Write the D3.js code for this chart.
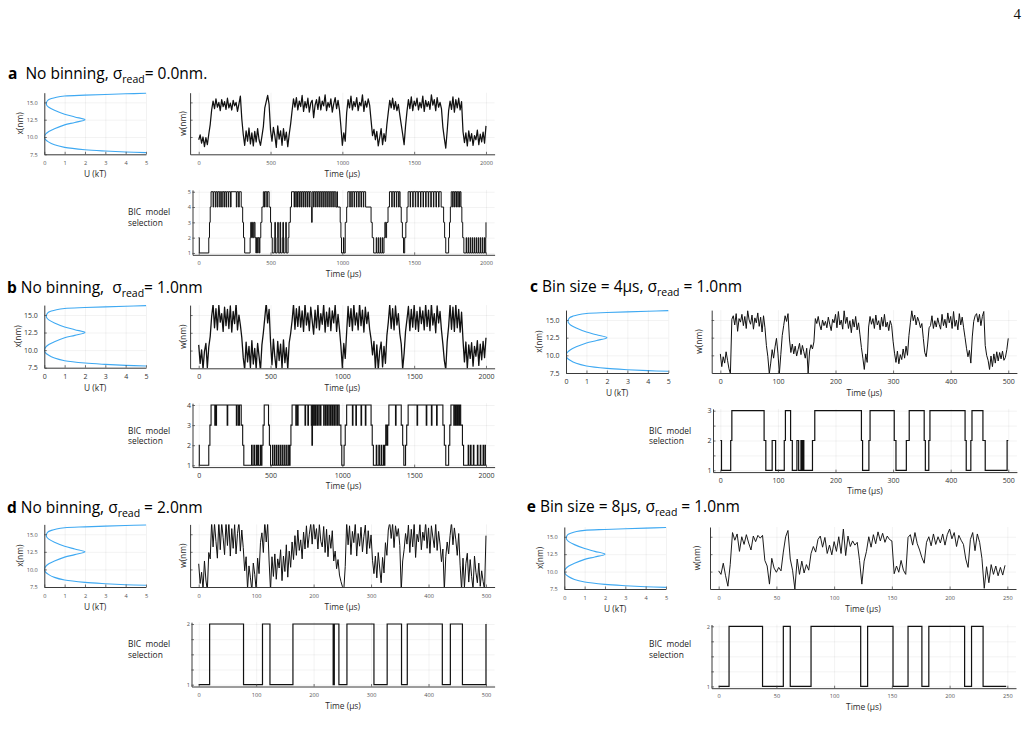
<!DOCTYPE html>
<html><head><meta charset="utf-8">
<script src="https://cdn.jsdelivr.net/npm/d3@7"></script>
<style>
body{margin:0;background:#fff;}
svg{display:block;font-family:"Open Sans","Noto Sans",sans-serif;}
text{white-space:pre;}
</style></head><body>
<svg id="fig" width="1028" height="739"></svg>
<script>
// ---------------- DATA ----------------
// potential curve U(x): x (nm) and U (kT)
const potX = [7.74,7.83,7.97,8.16,8.5,8.87,9.3,9.65,10.0,10.4,10.8,11.2,11.75,12.1,12.5,12.9,13.3,13.87,14.3,14.6,14.9,15.3,15.55,15.75,15.92,16.05,16.15,16.24,16.32];
const potU = [5.0,4.0,3.0,2.0,1.0,0.5,0.2,0.05,0.0,0.06,0.22,0.5,1.0,1.5,2.0,1.5,1.0,0.5,0.22,0.12,0.1,0.17,0.35,0.6,1.0,2.0,3.0,4.0,5.0];
const potXTicks = [0,1,2,3,4,5];
const potYTicks = [7.5,10.0,12.5,15.0];

// trace a (sigma 0.0), sampled every 10 us, 0..2000
const traceA = [
9.6,10.3,9.1,10.0,8.6,9.9,8.9,10.4,11.8,13.9,
15.2,14.1,15.5,14.3,15.0,13.8,15.4,14.4,15.1,14.0,
15.6,14.2,14.9,13.9,15.3,14.5,15.0,13.7,14.8,15.9,
12.6,10.4,8.8,10.9,9.4,11.3,9.0,10.6,8.7,10.8,
9.3,11.2,9.6,8.8,10.1,11.5,14.2,15.1,16.0,14.7,
11.0,9.4,11.4,10.2,8.5,11.6,9.7,10.9,8.8,11.2,
9.5,10.7,8.6,10.4,11.9,13.8,15.5,14.3,15.7,13.9,
15.2,14.4,16.0,13.7,15.1,14.2,15.6,13.6,14.9,15.3,
12.8,14.6,15.4,14.0,15.8,13.9,15.2,14.5,16.1,13.8,
15.0,14.3,15.5,13.6,14.8,15.7,14.1,15.3,13.9,11.5,
8.8,10.6,9.4,13.5,15.4,14.2,15.9,13.9,15.1,14.4,
15.7,13.8,15.0,14.5,16.1,13.7,15.2,14.3,15.5,14.6,
12.4,10.2,11.1,9.6,10.8,8.7,9.9,11.2,8.9,10.5,
9.4,11.8,13.6,15.3,14.2,15.6,14.0,15.1,13.8,14.7,
13.2,11.8,10.4,8.9,11.6,13.7,15.4,14.1,15.8,13.8,
15.2,14.5,15.6,13.9,15.0,14.2,15.9,13.7,15.3,14.4,
15.1,14.0,16.1,14.6,15.4,13.8,15.7,14.3,15.0,14.1,
11.4,9.8,8.4,10.9,13.8,15.2,14.0,15.8,13.6,15.4,
14.2,15.6,13.9,15.1,10.8,9.2,10.6,8.7,10.9,9.4,
10.5,8.8,10.2,9.6,11.0,8.9,10.4,9.3,10.7,9.1,
11.6];
// trace b (sigma 1.0), every 10 us
const traceB = [
10.8,8.2,10.1,7.4,9.9,11.0,7.6,10.5,12.0,14.8,
16.5,13.2,15.9,12.9,16.4,14.0,15.2,12.7,16.1,13.5,
15.8,13.1,16.3,12.6,15.5,13.8,16.6,12.9,15.0,13.6,
11.8,9.0,7.3,11.2,8.4,10.6,7.6,11.4,8.1,10.3,
7.4,11.0,9.2,7.2,10.8,12.5,14.6,16.7,13.9,15.8,
11.2,8.0,11.6,9.1,7.3,11.3,8.6,10.9,7.5,11.5,
8.3,10.4,7.4,11.1,12.4,14.2,16.5,13.0,15.9,13.4,
16.2,13.3,15.6,12.7,16.6,13.6,15.3,12.8,16.1,14.2,
12.3,15.7,13.2,16.4,12.9,15.2,13.7,16.5,12.6,15.4,
13.4,16.0,12.8,15.6,13.9,16.4,12.7,15.1,13.0,10.6,
7.6,11.0,8.9,12.6,16.2,13.4,15.9,12.8,16.5,13.6,
15.3,12.9,16.6,13.5,15.7,12.6,16.1,13.8,15.4,13.0,
11.6,9.4,11.3,7.5,10.8,7.3,9.9,11.2,7.7,10.6,
8.2,12.1,14.0,16.5,13.1,15.9,12.9,16.3,13.6,15.2,
12.4,10.9,7.4,9.6,12.7,14.4,16.2,12.8,15.8,13.3,
16.4,13.0,15.5,12.7,16.1,13.8,15.6,12.9,16.5,13.4,
15.7,12.8,16.6,13.6,15.2,12.5,16.3,13.9,15.5,12.9,
10.9,8.6,7.3,11.3,13.4,16.4,13.0,16.1,12.7,16.5,
13.2,15.8,12.6,15.4,11.5,8.4,11.2,7.5,10.8,8.9,
11.1,7.8,10.6,9.2,11.4,7.9,10.9,8.7,11.3,9.0,
11.8];
// trace c (bin 4 us), every 2.5 units, 0..500
const traceC = [
10.2,8.4,9.8,8.9,10.5,9.3,8.1,7.4,15.1,15.6,14.3,15.9,13.4,15.2,14.7,15.8,14.2,15.5,13.8,16.3,
15.0,14.4,15.7,13.7,15.3,14.6,16.0,14.1,15.4,13.3,15.6,13.9,11.4,9.8,7.4,8.9,10.8,9.6,11.2,12.4,
10.3,7.4,10.1,12.8,14.2,15.6,14.8,15.9,12.3,10.4,11.6,10.2,11.3,9.9,10.8,11.7,10.1,11.4,10.5,9.6,
11.0,7.5,10.6,11.5,10.9,11.9,15.2,14.5,15.5,14.3,13.6,15.0,14.2,14.8,13.9,15.4,14.4,13.5,15.1,14.6,
15.8,13.9,16.2,14.3,15.0,13.7,16.3,14.5,15.4,13.8,14.9,13.2,15.1,14.0,15.5,13.6,14.6,12.9,11.1,9.6,
8.0,10.2,9.0,14.0,15.5,14.4,15.2,13.8,15.7,14.3,14.9,13.6,15.4,14.1,15.8,14.0,14.7,13.5,14.9,14.2,
12.0,10.3,9.0,10.6,8.8,10.1,9.4,10.9,9.6,11.3,10.0,12.8,14.6,16.3,14.9,15.7,14.3,15.4,14.8,13.9,
14.5,12.4,10.4,9.8,11.6,13.9,14.2,15.6,13.8,14.9,14.0,15.3,14.4,13.7,15.8,14.2,15.1,13.9,16.0,14.6,
15.5,13.8,16.2,14.1,15.0,13.6,15.9,14.3,15.4,13.9,12.5,11.0,9.8,10.7,8.9,12.6,14.8,15.6,15.9,14.7,
15.8,14.2,15.5,16.2,11.4,10.0,9.3,8.0,9.9,8.4,10.2,8.9,10.5,9.2,10.4,9.5,10.6,9.3,9.7,10.8,
12.4];
// trace d (sigma 2.0), every 2.5 us, 0..500
const traceD = [
10.8,8.0,9.6,7.2,11.2,8.5,7.0,12.4,11.5,16.8,13.2,16.5,14.0,11.6,16.9,12.8,16.6,14.5,12.1,16.7,
13.4,16.8,11.9,15.8,13.0,16.4,12.2,15.1,16.7,12.6,15.6,13.1,9.8,11.8,7.2,10.5,8.8,7.0,10.9,9.3,
7.1,11.6,9.4,13.8,15.2,12.4,16.8,13.9,16.5,11.2,7.0,11.8,9.0,12.2,8.6,11.5,10.2,12.8,8.4,11.9,
9.7,13.5,8.9,12.6,10.3,13.9,11.4,14.8,12.0,15.6,12.7,14.2,11.5,15.3,12.9,16.2,13.1,15.0,16.5,13.6,
16.8,14.3,15.8,12.9,16.4,14.0,13.2,16.1,12.4,15.7,11.8,14.9,13.0,15.5,11.2,12.6,10.1,11.4,9.2,8.3,
7.6,7.0,10.4,16.7,13.5,16.2,12.1,15.4,13.8,16.6,11.9,15.1,13.3,16.0,12.5,14.7,16.3,12.2,15.5,13.0,
14.9,11.3,9.4,11.9,8.8,12.4,10.2,8.1,11.7,9.5,13.8,12.0,15.6,16.7,14.4,16.5,13.1,16.2,14.7,15.8,
13.4,7.0,11.2,12.8,15.1,13.6,16.3,12.4,15.7,13.2,16.6,11.7,15.0,13.9,16.4,12.8,15.3,14.1,16.7,13.0,
15.9,12.3,16.2,14.6,13.1,16.5,12.7,15.4,13.6,11.1,12.9,7.0,11.8,13.9,12.2,14.8,16.7,13.5,15.9,14.2,
12.0,15.1,10.6,7.1,11.6,7.4,10.8,12.3,8.2,11.4,9.0,7.2,11.9,9.6,8.1,10.9,7.6,9.8,8.3,7.1,
14.8];
// trace e (bin 8 us), every 2 units, 0..248
const traceE = [
10.1,9.6,11.2,9.4,7.9,11.0,15.6,14.5,15.4,12.9,15.0,13.9,15.3,14.1,13.1,15.1,14.3,15.2,14.8,15.2,
11.6,10.8,8.2,11.9,10.5,9.9,10.6,10.1,12.8,15.0,15.9,11.8,10.2,7.5,11.8,9.6,11.5,9.8,11.0,10.2,
12.6,13.6,12.8,14.6,15.1,13.5,14.9,12.6,13.8,12.4,14.3,12.9,15.0,12.6,16.1,12.3,15.1,13.6,14.4,13.8,
14.2,11.6,8.2,11.5,12.9,15.0,13.5,15.3,14.0,15.7,14.4,15.5,14.2,15.1,14.6,14.4,9.7,10.8,9.9,11.6,
10.2,9.6,14.9,15.3,13.8,15.6,14.0,13.1,12.0,11.2,14.2,15.0,13.7,15.4,13.9,15.0,14.1,15.4,13.8,15.3,
16.1,14.7,15.6,13.6,15.2,14.5,13.9,11.8,10.6,14.6,15.6,13.0,15.4,14.2,11.9,7.6,10.7,8.4,11.0,9.6,
10.8,9.4,10.6,9.5,10.9];
const stepAB = 10, stepCD = 2.5, stepE = 2;

// BIC model selection: [time, selected model] change points
const bicA = [[0,2],[4,1],[70,2],[75,3],[80,4],[86,5],
[100,4],[104,5],[116,4],[120,5],[130,4],[134,5],[146,4],[150,5],[160,4],[164,5],[176,4],[179,5],[190,4],[194,5],[206,4],[209,5],[222,4],[225,5],[262,4],[266,5],[278,4],[282,5],[296,4],[306,3],[312,2],[320,1],
[358,2],[362,3],[368,2],[374,3],[380,2],[386,3],[392,2],[398,1],[402,2],[410,1],[414,2],[422,1],[426,2],[432,3],[440,4],[450,5],[458,4],[462,5],[474,4],[478,5],[490,4],[500,3],[506,2],[512,1],
[526,2],[530,3],[534,1],[546,2],[550,3],[554,1],[566,3],[570,1],[582,2],[586,3],[590,1],[602,2],[606,3],[610,1],[622,2],[628,3],[638,4],[646,5],
[664,4],[667,5],[676,4],[679,5],[688,4],[691,5],[700,4],[703,5],[712,4],[715,5],[726,4],[729,5],[740,4],[743,5],[754,4],[757,5],[768,4],[771,5],[782,4],[786,3],[790,5],[800,4],[803,5],[814,4],[817,5],[828,4],[831,5],[842,4],[845,5],[856,4],[859,5],[870,4],[873,5],[884,4],[887,5],[898,4],[901,5],[912,4],[915,5],[926,4],[929,5],[940,4],[943,5],[954,4],[962,5],[966,4],[985,3],[990,2],[994,1],[1008,2],[1011,1],[1020,3],[1030,4],[1038,5],
[1052,4],[1055,5],[1066,4],[1069,5],[1082,4],[1085,5],[1098,4],[1101,5],[1114,4],[1117,5],[1130,4],[1133,5],[1146,4],[1149,5],[1162,4],[1200,3],[1208,2],[1218,1],
[1236,2],[1239,1],[1250,2],[1253,1],[1264,2],[1267,1],[1278,2],[1281,1],[1290,2],[1296,3],[1302,2],[1308,3],[1318,4],[1328,5],
[1344,4],[1347,5],[1360,4],[1363,5],[1376,4],[1379,5],[1392,4],[1395,5],[1402,4],[1410,3],[1418,2],[1426,1],[1434,2],[1442,3],[1450,4],[1458,5],
[1472,4],[1475,5],[1490,4],[1493,5],[1508,4],[1511,5],[1526,4],[1529,5],[1544,4],[1547,5],[1562,4],[1565,5],[1580,4],[1583,5],[1598,4],[1601,5],[1616,4],[1619,5],[1634,4],[1637,5],[1652,4],[1655,5],[1670,4],[1673,5],[1688,4],[1705,3],[1712,2],[1720,1],[1740,2],[1746,3],[1752,4],[1758,5],
[1768,4],[1771,5],[1780,4],[1783,5],[1792,4],[1795,5],[1804,4],[1807,5],[1816,4],[1819,5],[1826,4],[1832,3],[1838,2],[1846,1],
[1862,2],[1865,1],[1876,2],[1879,1],[1890,2],[1893,1],[1904,2],[1907,1],[1918,2],[1921,1],[1932,2],[1935,1],[1946,2],[1949,1],[1960,2],[1963,1],[1974,2],[1977,1],[1988,2],[1991,1],[1998,2],[2000,3]];
const bicB = [[0,2],[4,1],[70,2],[78,3],[86,4],[112,3],[116,4],[120,3],[124,4],[198,3],[202,4],[262,3],[266,4],[276,3],[284,4],[296,3],[306,2],[314,1],
[368,2],[372,1],[384,2],[388,1],[400,2],[404,1],[412,2],[416,1],[428,2],[432,1],[440,2],[448,3],[456,4],[486,3],[492,2],[500,1],
[514,2],[517,1],[528,2],[531,1],[542,2],[545,1],[556,2],[559,1],[570,2],[573,1],[584,2],[587,1],[598,2],[601,1],[612,2],[615,1],[626,2],[629,1],[636,2],[642,3],[650,4],
[676,3],[680,4],[688,3],[692,4],[740,3],[744,4],[760,3],[764,4],[784,3],[788,2],[792,4],[800,3],[804,4],[812,3],[815,4],[824,3],[827,4],[836,3],[839,4],[848,3],[851,4],[870,3],[873,4],[882,3],[885,4],[894,3],[897,4],[906,3],[909,4],[918,3],[921,4],[930,3],[933,4],[942,3],[945,4],[954,3],[957,4],[966,3],[969,4],[978,3],[990,2],[996,1],[1012,2],[1020,3],[1030,4],
[1070,3],[1074,4],[1094,3],[1098,4],[1130,3],[1134,4],[1160,3],[1164,4],[1200,3],[1208,2],[1216,1],
[1236,2],[1240,1],[1254,2],[1258,1],[1270,2],[1274,1],[1286,2],[1290,1],[1296,2],[1302,3],[1310,2],[1316,3],[1324,4],
[1370,3],[1374,4],[1410,3],[1420,2],[1428,1],[1440,2],[1448,3],[1458,4],
[1520,3],[1524,4],[1584,3],[1588,4],[1620,3],[1624,4],[1656,3],[1660,4],[1700,3],[1710,2],[1720,1],[1740,2],[1748,3],[1756,4],
[1776,3],[1780,4],[1788,3],[1792,4],[1800,3],[1804,4],[1812,3],[1816,4],[1824,3],[1830,3],[1836,2],[1844,1],
[1876,2],[1880,1],[1892,2],[1896,1],[1912,2],[1916,1],[1940,2],[1944,1],[1960,2],[1964,1],[1980,2],[1986,1],[1996,2],[2000,2]];
const bicC = [[0,2],[2,1],[18,2],[20,3],[76,2],[79,1],[90,2],[96,1],[111,2],[113,3],[122,2],[125,1],[133,2],[136,1],[140,2],[142,1],[144,2],[145,1],[160,2],[164,3],[245,2],[247,1],[258,2],[260,3],[302,2],[305,1],[323,2],[328,3],[354,2],[356,1],[362,2],[364,3],[425,2],[427,1],[435,2],[437,3],[456,2],[460,1],[498,2],[500,2]];
const bicD = [[0,1],[19,2],[78,1],[111,2],[124,1],[164,2],[234,1],[236,2],[244,1],[258,2],[305,1],[328,2],[353,1],[363,2],[424,1],[438,2],[459,1],[500,2]];
const bicE = [[0,1],[9,2],[38,1],[56,2],[62,1],[80,2],[123,1],[129,2],[151,1],[164,2],[176,1],[182,2],[213,1],[219,2],[229,1],[249,1]];

const ticksLong = [0,500,1000,1500,2000];
const ticks500 = [0,100,200,300,400,500];
const ticks250 = [0,50,100,150,200,250];

// ---------------- DRAWING ----------------
const svg = d3.select("#fig");
let clipN = 0;
const AX = "#3a3a3a";

function axes(g, x, y, o) {
  const [x0, x1] = x.range();
  const [yb, yt] = y.range();
  const gx = g.append("g").attr("transform", `translate(0,${yb})`)
    .call(d3.axisBottom(x).tickValues(o.xTicks).tickSize(-(yb - yt)).tickFormat(""));
  const gy = g.append("g").attr("transform", `translate(${x0},0)`)
    .call(d3.axisLeft(y).tickValues(o.yGrid || o.yTicks).tickSize(-(x1 - x0)).tickFormat(""));
  [gx, gy].forEach(s => { s.select(".domain").remove(); s.selectAll("line").attr("stroke", "#000").attr("stroke-opacity", 0.09).attr("stroke-width", 0.6); });
  return function drawAxisLines() {
    const fs = o.fs;
    const ax = g.append("g").attr("transform", `translate(0,${yb})`)
      .call(d3.axisBottom(x).tickValues(o.xTicks).tickSizeInner(-2.5).tickSizeOuter(0)
        .tickPadding(o.xPad - 0.35 * fs).tickFormat(o.xFmt || d3.format("d")));
    const ay = g.append("g").attr("transform", `translate(${x0},0)`)
      .call(d3.axisLeft(y).tickValues(o.yGrid || o.yTicks).tickSizeInner(-2.5).tickSizeOuter(0)
        .tickPadding(o.yPad).tickFormat(d => (o.yLabels && o.yLabels.includes(d)) ? o.yFmt(d) : ""));
    [ax, ay].forEach(s => {
      s.select(".domain").attr("stroke", AX).attr("stroke-width", 1);
      s.selectAll(".tick line").attr("stroke", AX).attr("stroke-width", 0.7);
      s.selectAll("text").attr("font-size", fs).attr("fill", o.tc).attr("font-family", '"Open Sans","Noto Sans",sans-serif');
    });
  };
}

function clip(x0, x1, yt, yb) {
  const id = "c" + (clipN++);
  svg.append("clipPath").attr("id", id).append("rect").attr("x", x0).attr("y", yt).attr("width", x1 - x0).attr("height", yb - yt);
  return `url(#${id})`;
}

function label(x, y, txt, fs, rot) {
  const t = svg.append("text").attr("font-size", fs).attr("fill", "#2a2a2a").attr("text-anchor", "middle")
    .attr("dominant-baseline", "central").text(txt);
  if (rot) t.attr("transform", `translate(${x},${y}) rotate(-90)`); else t.attr("x", x).attr("y", y);
}

function title(p) {
  const t = svg.append("text").attr("x", p.tx).attr("y", p.ty).attr("font-size", 15.5).attr("fill", "#000");
  t.append("tspan").attr("font-weight", "bold").text(p.title[0]);
  t.append("tspan").text(p.title[1]);
  t.append("tspan").attr("font-size", 10.5).attr("dy", 4).text(p.title[2]);
  t.append("tspan").attr("dy", -4).text(p.title[3]);
}

const panels = [
  {title:["a","  No binning, σ","read","= 0.0nm."], tx:8, ty:78.5,
   pot:[44.3,146,92.7,154.3], tr:[190.1,494.6,92.7,154.3], tDom:[-60,2060], tTicks:ticksLong,
   data:traceA, step:stepAB, sw:1.25, bic:bicA, bsw:1.0, bicX0:192.5, bicY:[189.9,254.8], bicDom:[0.88,5.12], bicTicks:[1,2,3,4,5], bicLabels:[1,2,3,4,5],
   fs:5.6, tc:"#555", wX:182.7, xX:19.7, bicLab:[128,211.7,222.7]},
  {title:["b"," No binning,  σ","read","= 1.0nm"], tx:7, ty:293,
   pot:[44.3,146,305.1,367.7], tr:[190.1,494.6,305.1,368.3], tDom:[-60,2060], tTicks:ticksLong,
   data:traceB, step:stepAB, sw:1.3, bic:bicB, bsw:1.1, bicX0:192.5, bicY:[403.2,467.1], bicDom:[0.91,4.09], bicTicks:[1,2,3,4], bicLabels:[1,2,3,4],
   fs:7, tc:"#333", wX:182.7, xX:17.8, bicLab:[128,430,440.7]},
  {title:["c"," Bin size = 4μs, σ","read"," = 1.0nm"], tx:530, ty:292,
   pot:[566,668.3,310.1,373], tr:[711.7,1016.9,310.1,373], tDom:[-15,515], tTicks:ticks500,
   data:traceC, step:stepCD, sw:1.0, bic:bicC, bsw:1.2, bicX0:713, bicY:[408.9,472.1], bicDom:[0.94,3.06], bicTicks:[1,1.5,2,2.5,3], bicLabels:[1,2,3],
   fs:7, tc:"#333", wX:698, xX:538, bicLab:[649,430,440.7]},
  {title:["d"," No binning, σ","read"," = 2.0nm"], tx:7, ty:512.5,
   pot:[44.3,146,524.4,587], tr:[190.1,494.6,524.4,587], tDom:[-15,515], tTicks:ticks500,
   data:traceD, step:stepCD, sw:1.0, bic:bicD, bsw:1.2, bicX0:191.5, bicY:[622.2,686.5], bicDom:[0.97,2.03], bicTicks:[1,1.25,1.5,1.75,2], bicLabels:[1,2],
   fs:5.6, tc:"#555", wX:182.7, xX:19.3, bicLab:[128,643.3,654]},
  {title:["e"," Bin size = 8μs, σ","read"," = 1.0nm"], tx:526.7, ty:512,
   pot:[564.3,666,527,589], tr:[710,1016,527,589], tDom:[-7.5,257.5], tTicks:ticks250,
   data:traceE, step:stepE, sw:0.95, bic:bicE, bsw:1.2, bicX0:711.5, bicY:[624.5,688.2], bicDom:[0.97,2.03], bicTicks:[1,1.25,1.5,1.75,2], bicLabels:[1,2],
   fs:5.6, tc:"#555", wX:696.7, xX:539, bicLab:[649,643.3,654]}
];

panels.forEach(p => {
  title(p);
  // ---- potential ----
  const [px0, px1, pyt, pyb] = p.pot;
  const px = d3.scaleLinear().domain([0, 5]).range([px0, px1]);
  const py = d3.scaleLinear().domain([7.5, 16.4]).range([pyb, pyt]);
  const gp = svg.append("g");
  const finP = axes(gp, px, py, {xTicks: potXTicks, yTicks: potYTicks, yLabels: potYTicks, yFmt: d3.format(".1f"),
    fs: p.fs, tc: p.tc, xPad: 8.6, yPad: 6.5});
  gp.append("path").datum(potX.map((v, i) => [potU[i], v]))
    .attr("clip-path", clip(px0, px1 + 1, pyt - 1, pyb))
    .attr("fill", "none").attr("stroke", "#3fa9f2").attr("stroke-width", 1.1)
    .attr("d", d3.line().x(d => px(d[0])).y(d => py(d[1])).curve(d3.curveCatmullRom.alpha(0.5)));
  finP();
  label((px0 + px1) / 2, pyb + 19.5, "U (kT)", 8.4);
  label(p.xX, (pyt + pyb) / 2, "x(nm)", 8.4, true);

  // ---- trace ----
  const [tx0, tx1, tyt, tyb] = p.tr;
  const tx = d3.scaleLinear().domain(p.tDom).range([tx0, tx1]);
  const ty = d3.scaleLinear().domain([7.5, 16.4]).range([tyb, tyt]);
  const gt = svg.append("g");
  const finT = axes(gt, tx, ty, {xTicks: p.tTicks, yTicks: [10, 12.5, 15], yLabels: [], yFmt: d3.format(".1f"),
    fs: p.fs, tc: p.tc, xPad: 8.5, yPad: 3});
  gt.append("path").datum(p.data)
    .attr("clip-path", clip(tx0, tx1, tyt, tyb))
    .attr("fill", "none").attr("stroke", "#111").attr("stroke-width", p.sw).attr("stroke-linejoin", "round")
    .attr("d", d3.line().x((d, i) => tx(i * p.step)).y(d => ty(d)));
  finT();
  label((tx0 + tx1) / 2, tyb + 19, "Time (μs)", 8.4);
  label(p.wX, (tyt + tyb) / 2, "w(nm)", 8.4, true);

  // ---- BIC ----
  const [byt, byb] = p.bicY;
  const bx = tx.copy().domain([tx.invert(p.bicX0), p.tDom[1]]).range([p.bicX0, tx1]);
  const by = d3.scaleLinear().domain(p.bicDom).range([byb, byt]);
  const gb = svg.append("g");
  const finB = axes(gb, bx, by, {xTicks: p.tTicks, yTicks: p.bicTicks, yLabels: p.bicLabels, yFmt: d3.format("d"),
    fs: p.fs, tc: p.tc, xPad: 8, yPad: 1.5});
  gb.append("path").datum(p.bic)
    .attr("fill", "none").attr("stroke", "#111").attr("stroke-width", p.bsw)
    .attr("d", d3.line().x(d => bx(d[0])).y(d => by(d[1])).curve(d3.curveStepAfter));
  finB();
  label((p.bicX0 + tx1) / 2, byb + 18.5, "Time (μs)", 8.4);
  const bl = svg.append("g").attr("font-size", 8.4).attr("fill", "#222");
  bl.append("text").attr("x", p.bicLab[0]).attr("y", p.bicLab[1]).attr("dominant-baseline", "central").text("BIC  model");
  bl.append("text").attr("x", p.bicLab[0]).attr("y", p.bicLab[2]).attr("dominant-baseline", "central").text("selection");
});

// page number
svg.append("text").attr("x", 1021).attr("y", 19.3).attr("text-anchor", "end")
  .attr("font-family", '"Liberation Serif","DejaVu Serif",serif').attr("font-size", 15).attr("fill", "#111").text("4");
</script>
</body></html>
